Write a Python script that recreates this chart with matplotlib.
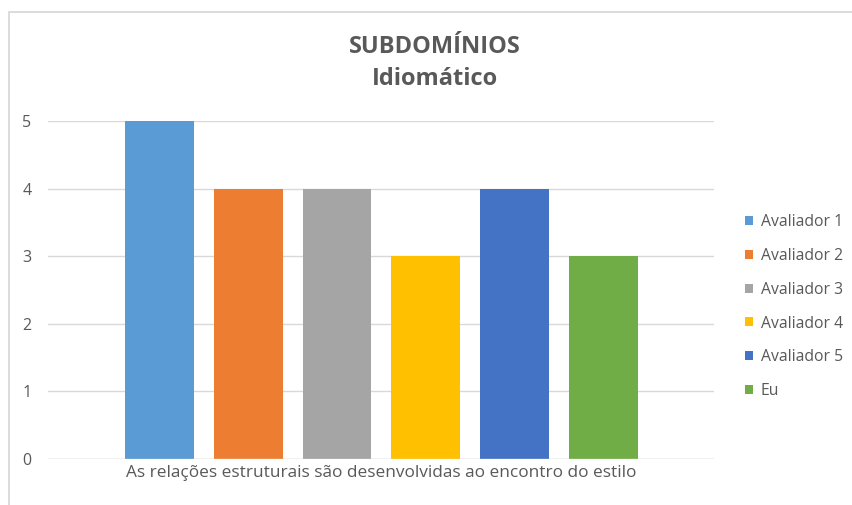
import matplotlib.pyplot as plt
from matplotlib.patches import Rectangle, Patch

series = ["Avaliador 1", "Avaliador 2", "Avaliador 3", "Avaliador 4", "Avaliador 5", "Eu"]
values = [5, 4, 4, 3, 4, 3]
colors = ["#5B9BD5", "#ED7D31", "#A5A5A5", "#FFC000", "#4472C4", "#70AD47"]
category = "As relações estruturais são desenvolvidas ao encontro do estilo"

plt.rcParams['font.family'] = ['Open Sans', 'DejaVu Sans']

fig = plt.figure(figsize=(8.52, 5.05), dpi=100)
# chart border (light gray frame)
fig.patches.append(Rectangle((9 / 852, -0.1), 1.2, 1 - 12 / 505 + 0.1, transform=fig.transFigure,
                             fill=False, edgecolor="#D9D9D9", linewidth=1.3))

ax = fig.add_axes([48 / 852, 1 - 459 / 505, (714 - 48) / 852, (459 - 121) / 505])
x = list(range(len(values)))
bars = ax.bar(x, values, width=0.775, color=colors, zorder=3)

ax.set_xlim(-1.253, 6.242)
ax.set_ylim(0, 5)
ax.set_yticks(range(6))
ax.yaxis.grid(True, color="#D9D9D9", linewidth=1, zorder=0)
for s in ax.spines.values():
    s.set_visible(False)
ax.axhline(0, color="#D9D9D9", linewidth=1, zorder=4)
ax.tick_params(axis='y', length=0, pad=12, labelsize=11.5, labelcolor="#595959")
ax.set_xticks([2.5])
ax.set_xticklabels([category])
ax.tick_params(axis='x', length=0, pad=4, labelsize=12.4, labelcolor="#595959")

fig.text(435 / 852, 1 - 63 / 505, "SUBDOMÍNIOS\nIdiomático", ha="center", va="center",
         fontsize=17, fontweight="bold", color="#595959", linespacing=1.42)

handles = [Patch(facecolor=c, edgecolor="none") for c in colors]
fig.legend(handles, series, loc="upper left", bbox_to_anchor=(737 / 852, 1 - 206 / 505),
           frameon=False, fontsize=11.3, labelcolor="#595959", handlelength=0.5,
           handleheight=0.5, handletextpad=0.5, labelspacing=1.14, borderpad=0)

fig.savefig("out.png", dpi=100)
